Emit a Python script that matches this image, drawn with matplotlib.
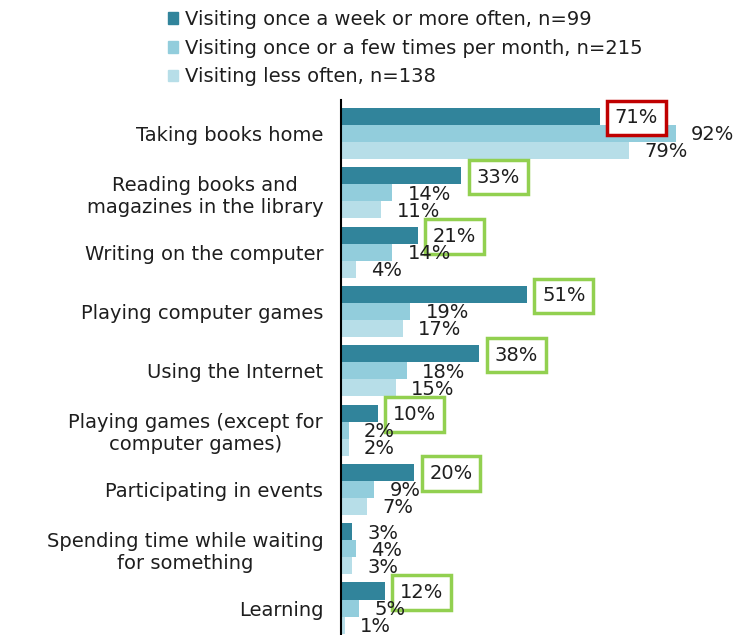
import matplotlib.pyplot as plt
from matplotlib.patches import Patch

# Share of visitors doing each activity, by visiting frequency
categories = ["Taking books home", "Reading books and\nmagazines in the library",
              "Writing on the computer", "Playing computer games", "Using the Internet",
              "Playing games (except for\ncomputer games)", "Participating in events",
              "Spending time while waiting\nfor something", "Learning"]
weekly = [71, 33, 21, 51, 38, 10, 20, 3, 12]
monthly = [92, 14, 14, 19, 18, 2, 9, 4, 5]
rarely = [79, 11, 4, 17, 15, 2, 7, 3, 1]
series_names = ["Visiting once a week or more often, n=99",
                "Visiting once or a few times per month, n=215",
                "Visiting less often, n=138"]
# box colour for weekly labels (None = no box)
box_colors = ["#C00000", "#92D050", "#92D050", "#92D050", "#92D050",
              "#92D050", "#92D050", None, "#92D050"]

colors = ["#31849B", "#92CDDC", "#B7DEE8"]
plt.rcParams['font.family'] = 'DejaVu Sans'
fs = 14

fig = plt.figure(figsize=(7.5, 6.35), dpi=100)
ax = fig.add_axes([0.455, 0.0, 0.485, 0.8425])

h = 0.287
ys = list(range(len(categories)))
for k, (vals, c) in enumerate(zip([weekly, monthly, rarely], colors)):
    pos = [y + (k - 1) * h for y in ys]
    ax.barh(pos, vals, height=h, color=c, zorder=2)
    for i, (p, v) in enumerate(zip(pos, vals)):
        bbox = None
        if k == 0 and box_colors[i]:
            bbox = dict(boxstyle='square,pad=0.4', fc='white', ec=box_colors[i], lw=2.5)
        ax.annotate(f"{v}%", (v, p), xytext=(11, -1), textcoords='offset points',
                    ha='left', va='center', fontsize=fs, color='#1e1e1e',
                    bbox=bbox, zorder=5, annotation_clip=False)

ax.set_xlim(0, 100)
ax.set_ylim(8.455, -0.565)
ax.set_yticks(ys)
ax.set_yticklabels(categories, fontsize=fs, color='#1e1e1e')
ax.tick_params(axis='y', length=0, pad=13)
ax.set_xticks([])
for s in ['top', 'right', 'bottom']:
    ax.spines[s].set_visible(False)
ax.spines['left'].set_linewidth(1.5)
for lbl in ax.get_yticklabels():
    lbl.set_multialignment('center')

handles = [Patch(color=c) for c in colors]
fig.legend(handles, series_names, loc='upper left', bbox_to_anchor=(0.2, 1.012),
           frameon=False, fontsize=fs, handlelength=0.55, handleheight=0.55,
           handletextpad=0.35, labelspacing=0.5, labelcolor='#1e1e1e')

fig.savefig("out.png", dpi=100)
